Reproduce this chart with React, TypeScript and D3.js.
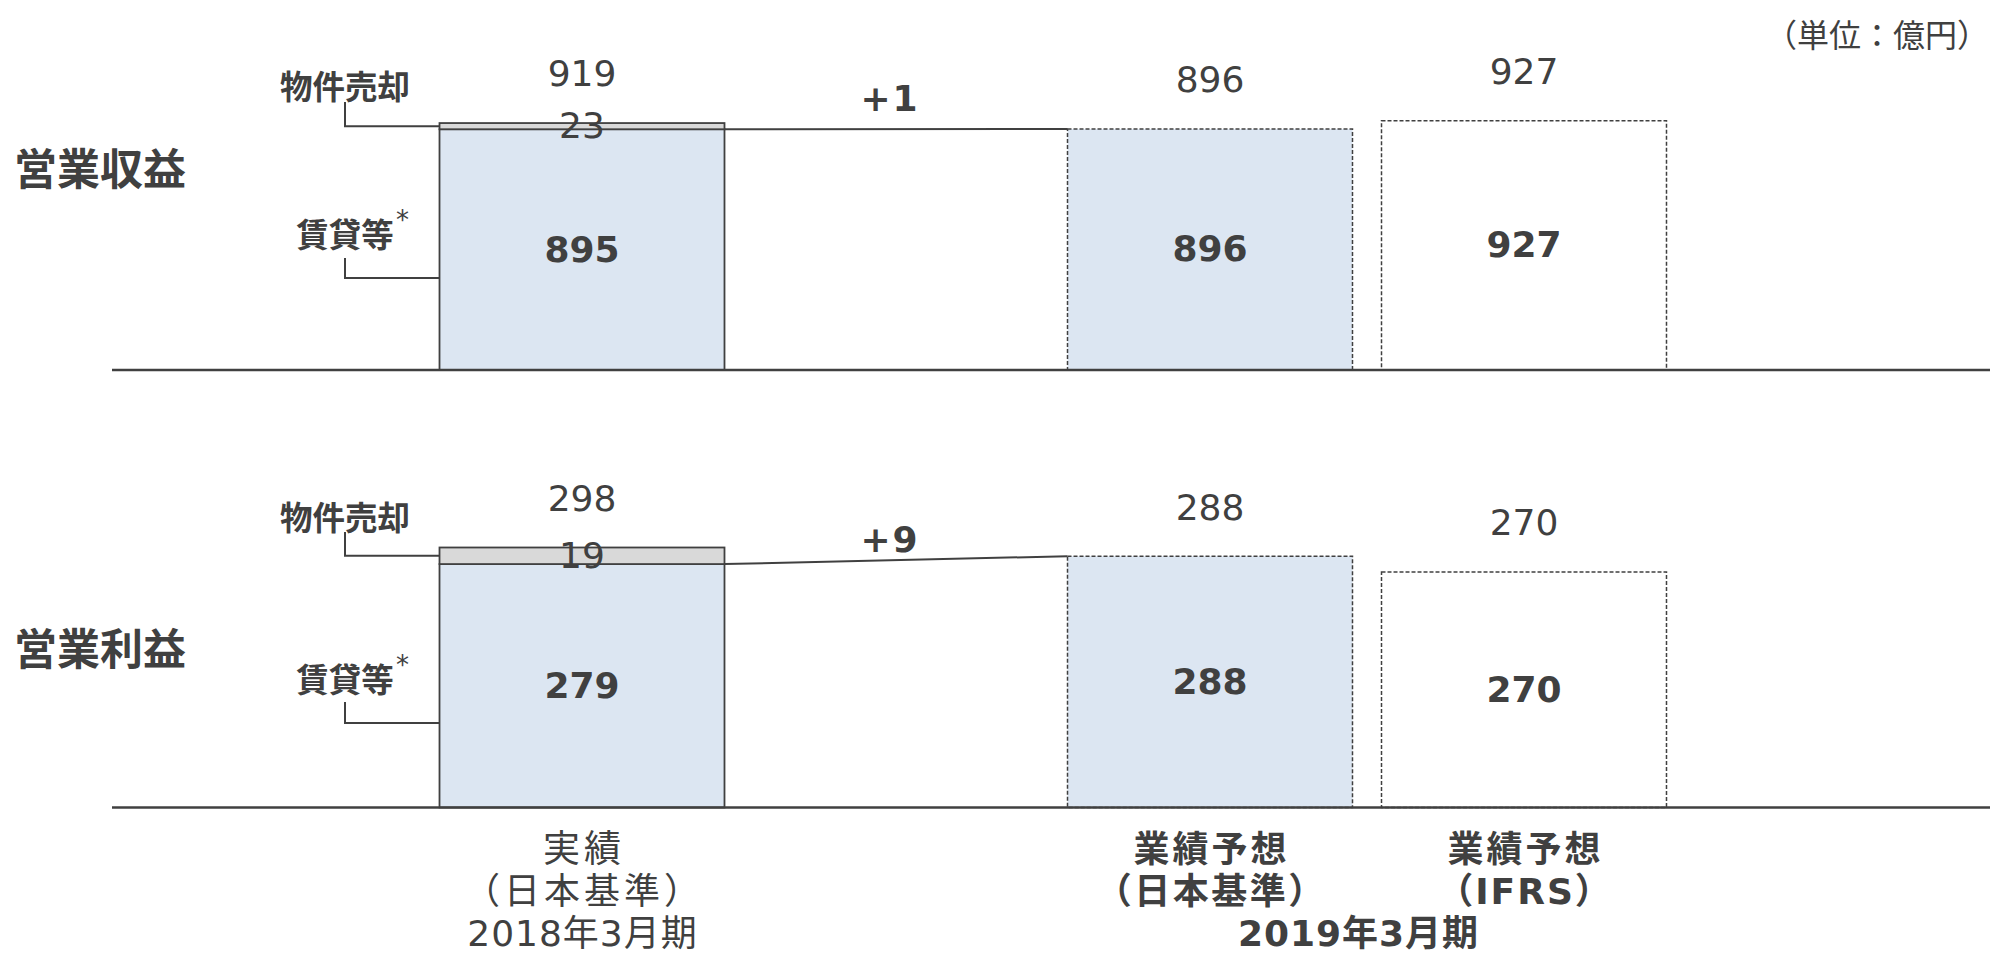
import React from "react";
import * as d3 from "d3";

// ---- data ----
const slots = ["actual", "bridge", "forecastJ", "forecastI"];
const barSlots = ["actual", "forecastJ", "forecastI"];
const xLabelLine1 = ["実績", "業績予想", "業績予想"];
const xLabelLine2 = ["（日本基準）", "（日本基準）", "（IFRS）"];
const periodLabels = ["2018年3月期", "2019年3月期"];
const panelTitles = ["営業収益", "営業利益"];
const segmentNames = ["物件売却", "賃貸等"];
const revenueRental = [895, 896, 927];
const revenueSales = [23, 0, 0];
const revenueTotals = [919, 896, 927];
const profitRental = [279, 288, 270];
const profitSales = [19, 0, 0];
const profitTotals = [298, 288, 270];
const bridgeLabels = ["+1", "+9"];
const unitLabel = "（単位：億円）";

// ---- style ----
const W = 1990;
const H = 954;
const TEXT = "#404040";
const BLUE = "#DCE6F2";
const GRAY = "#D9D9D9";
const NUM_FONT = "'DejaVu Sans', 'Noto Sans CJK JP', sans-serif";
const JP_FONT = "'Noto Sans CJK JP', 'DejaVu Sans', sans-serif";

const panels = [
  {
    title: panelTitles[0],
    rental: revenueRental,
    sales: revenueSales,
    totals: revenueTotals,
    bridge: bridgeLabels[0],
    domainMax: 1000,
    base: 370,
    top: 101,
    titleY: 169,
    salesLabelY: 87,
    salesLeaderTop: 102,
    rentalLabelY: 235,
    rentalLeaderTop: 258,
    rentalLeaderY: 278,
    bridgeY: 111,
  },
  {
    title: panelTitles[1],
    rental: profitRental,
    sales: profitSales,
    totals: profitTotals,
    bridge: bridgeLabels[1],
    domainMax: 300,
    base: 807.5,
    top: 545.75,
    titleY: 649,
    salesLabelY: 517.5,
    salesLeaderTop: 532,
    rentalLabelY: 679.5,
    rentalLeaderTop: 702,
    rentalLeaderY: 723,
    bridgeY: 552,
  },
];

const x = d3
  .scaleBand<string>()
  .domain(slots)
  .range([425, 1681])
  .paddingInner(0.0924)
  .paddingOuter(0.0462);

const bw = x.bandwidth();
const cx = (s: string) => (x(s) as number) + bw / 2;

function Panel({ p }: { p: (typeof panels)[number] }) {
  const y = d3.scaleLinear().domain([0, p.domainMax]).range([p.base, p.top]);
  const leaderX = 345;
  const firstX = x("actual") as number;
  const salesMid = (y(p.rental[0]) + y(p.rental[0] + p.sales[0])) / 2;
  return (
    <g>
      {/* panel title */}
      <text x={14} y={p.titleY + 16} fontFamily={JP_FONT} fontWeight={700} fontSize={43} fill={TEXT}>
        {p.title}
      </text>

      {/* bars */}
      {barSlots.map((s, i) => {
        const x0 = x(s) as number;
        const dashed = i > 0;
        const fill = i === 2 ? "#FFFFFF" : BLUE;
        const yRentTop = y(p.rental[i]);
        const ySalesTop = y(p.rental[i] + p.sales[i]);
        return (
          <g key={s}>
            <rect
              x={x0}
              y={yRentTop}
              width={bw}
              height={p.base - yRentTop}
              fill={fill}
              stroke={TEXT}
              strokeWidth={dashed ? 1.5 : 1.8}
              strokeDasharray={dashed ? "4,2" : undefined}
            />
            {p.sales[i] > 0 && (
              <rect
                x={x0}
                y={ySalesTop}
                width={bw}
                height={yRentTop - ySalesTop}
                fill={GRAY}
                stroke={TEXT}
                strokeWidth={1.8}
              />
            )}
          </g>
        );
      })}

      {/* bridge connector */}
      <line
        x1={firstX + bw}
        y1={y(p.rental[0])}
        x2={x("forecastJ") as number}
        y2={y(p.totals[1])}
        stroke={TEXT}
        strokeWidth={2}
      />
      <text
        x={cx("bridge") - 6}
        y={p.bridgeY}
        textAnchor="middle"
        fontFamily={NUM_FONT}
        fontWeight={700}
        fontSize={36}
        letterSpacing={2}
        fill={TEXT}
      >
        {p.bridge}
      </text>

      {/* total labels above bars */}
      {barSlots.map((s, i) => (
        <text
          key={"t" + s}
          x={cx(s)}
          y={y(p.totals[i]) - 36.5}
          textAnchor="middle"
          fontFamily={NUM_FONT}
          fontSize={36}
          fill={TEXT}
        >
          {p.totals[i]}
        </text>
      ))}

      {/* rental labels inside bars */}
      {barSlots.map((s, i) => (
        <text
          key={"r" + s}
          x={cx(s)}
          y={(y(p.rental[i]) + p.base) / 2 + 12}
          textAnchor="middle"
          fontFamily={NUM_FONT}
          fontWeight={700}
          fontSize={36}
          fill={TEXT}
        >
          {p.rental[i]}
        </text>
      ))}

      {/* sales label */}
      <text
        x={cx("actual")}
        y={salesMid + 12}
        textAnchor="middle"
        fontFamily={NUM_FONT}
        fontSize={36}
        fill={TEXT}
      >
        {p.sales[0]}
      </text>

      {/* segment name labels + leaders */}
      <text
        x={leaderX}
        y={p.salesLabelY + 12}
        textAnchor="middle"
        fontFamily={JP_FONT}
        fontWeight={700}
        fontSize={32.5}
        fill={TEXT}
      >
        {segmentNames[0]}
      </text>
      <path
        d={`M${leaderX},${p.salesLeaderTop}V${salesMid}H${firstX}`}
        fill="none"
        stroke={TEXT}
        strokeWidth={2}
      />
      <text
        x={leaderX}
        y={p.rentalLabelY + 12}
        textAnchor="middle"
        fontFamily={JP_FONT}
        fontWeight={700}
        fontSize={32.5}
        fill={TEXT}
      >
        {segmentNames[1]}
      </text>
      <text x={leaderX + 51} y={p.rentalLabelY - 6} fontFamily={NUM_FONT} fontSize={26} fill={TEXT}>
        *
      </text>
      <path
        d={`M${leaderX},${p.rentalLeaderTop}V${p.rentalLeaderY}H${firstX}`}
        fill="none"
        stroke={TEXT}
        strokeWidth={2}
      />

      {/* baseline */}
      <line x1={112} x2={W} y1={p.base} y2={p.base} stroke={TEXT} strokeWidth={2.5} />
    </g>
  );
}

export default function App() {
  const periodX = [cx("actual"), (cx("forecastJ") + cx("forecastI")) / 2 - 9];
  const ls1 = [4, 3, 3];
  const ls2 = [4, 2.5, 2];
  return (
    <svg
      width={W}
      height={H}
      viewBox={`0 0 ${W} ${H}`}
      style={{ position: "absolute", left: 0, top: 0, background: "#fff" }}
    >
      <rect width={W} height={H} fill="#fff" />
      <text x={1989} y={47} textAnchor="end" fontFamily={JP_FONT} fontSize={32} fill={TEXT}>
        {unitLabel}
      </text>
      {panels.map((p, i) => (
        <Panel key={i} p={p} />
      ))}
      {/* x labels */}
      {barSlots.map((s, i) => (
        <g key={"xl" + s}>
          <text
            x={cx(s) + ls1[i] / 2}
            y={862}
            textAnchor="middle"
            fontFamily={NUM_FONT}
            fontWeight={i > 0 ? 700 : 400}
            fontSize={i > 0 ? 36 : 37}
            letterSpacing={ls1[i]}
            fill={TEXT}
          >
            {xLabelLine1[i]}
          </text>
          <text
            x={cx(s) + ls2[i] / 2}
            y={904}
            textAnchor="middle"
            fontFamily={NUM_FONT}
            fontWeight={i > 0 ? 700 : 400}
            fontSize={36}
            letterSpacing={ls2[i]}
            fill={TEXT}
          >
            {xLabelLine2[i]}
          </text>
        </g>
      ))}
      {periodLabels.map((t, i) => (
        <text
          key={t}
          x={periodX[i] + 0.5}
          y={945.5}
          textAnchor="middle"
          fontFamily={NUM_FONT}
          fontWeight={i > 0 ? 700 : 400}
          fontSize={36}
          letterSpacing={1}
          fill={TEXT}
        >
          {t}
        </text>
      ))}
    </svg>
  );
}
